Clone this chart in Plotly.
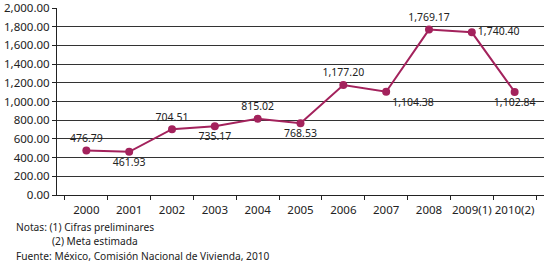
import plotly.graph_objects as go

years = ["2000", "2001", "2002", "2003", "2004", "2005", "2006", "2007", "2008", "2009(1)", "2010(2)"]
values = [476.79, 461.93, 704.51, 735.17, 815.02, 768.53, 1177.20, 1104.38, 1769.17, 1740.40, 1102.84]
label_pos = ["top center", "bottom center", "top center", "bottom center", "top center", "bottom center",
             "top center", "bottom right", "top center", "middle right", "bottom center"]
y_ticks = [0, 200, 400, 600, 800, 1000, 1200, 1400, 1600, 1800, 2000]
notes = ["Notas: (1) Cifras preliminares", "(2) Meta estimada",
         "Fuente: México, Comisión Nacional de Vivienda, 2010"]

color = "#a3225c"
font = "Noto Sans, Open Sans, sans-serif"

fig = go.Figure()
fig.add_trace(go.Scatter(
    x=years, y=values, mode="lines+markers+text",
    line=dict(color=color, width=2),
    marker=dict(color=color, size=8),
    text=[f"{v:,.2f}" for v in values],
    textposition=label_pos,
    textfont=dict(family=font, size=10.5, color="#222"),
    cliponaxis=False,
    hoverinfo="skip",
))

fig.update_layout(
    width=560, height=269,
    margin=dict(l=57, r=16, t=8, b=74),
    paper_bgcolor="white", plot_bgcolor="white",
    showlegend=False,
    font=dict(family=font, size=11.5, color="#222"),
)
fig.update_xaxes(
    type="category", tickson="boundaries", ticks="outside", ticklen=4,
    tickcolor="#222", showline=True, linecolor="#222", linewidth=1,
    showgrid=False, tickfont=dict(size=11.5), tickangle=0, automargin=False,
    ticklabelstandoff=4,
)
fig.update_yaxes(
    range=[0, 2000.5], tickvals=y_ticks,
    ticktext=[f"{v:,.2f}" for v in y_ticks],
    ticks="outside", ticklen=4, tickcolor="#222",
    showline=True, linecolor="#222", linewidth=1,
    showgrid=True, gridcolor="#333", gridwidth=1,
    zeroline=False, tickfont=dict(size=11.5), automargin=False,
)

ys = [227, 241, 256]
xs = [14, 50, 14]
for t, x, y in zip(notes, xs, ys):
    fig.add_annotation(text=t, xref="paper", yref="paper",
                       x=(x - 57) / (560 - 57 - 16), y=(269 - 74 - y) / (269 - 8 - 74),
                       xanchor="left", yanchor="middle", showarrow=False,
                       font=dict(family=font, size=10.2, color="#222"))

fig.write_html("out.html", config={"displayModeBar": False},
               post_script="document.body.style.margin='0';")
